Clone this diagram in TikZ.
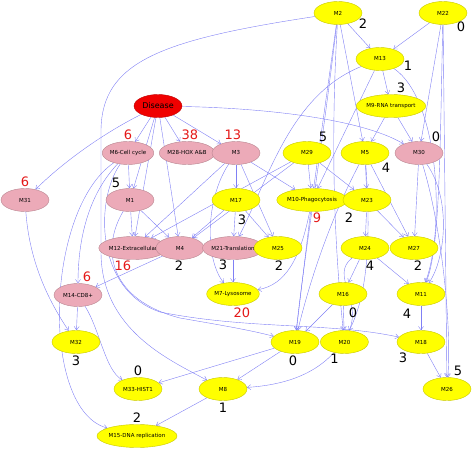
\documentclass[tikz,border=0pt]{standalone}
\usepackage{fontspec}
\setmainfont{DejaVu Sans}
\usetikzlibrary{shapes.geometric,arrows.meta,calc,positioning}
\definecolor{linkblue}{RGB}{128,128,245}
\definecolor{modpink}{RGB}{236,170,184}
\definecolor{modyellow}{RGB}{255,255,0}
\definecolor{modred}{RGB}{240,0,0}
\definecolor{numred}{RGB}{228,24,24}
\pgfdeclarelayer{background}
\pgfsetlayers{background,main}
\tikzset{
	mod/.style={ellipse, draw=#1!78!black, fill=#1, minimum width=48pt, minimum height=23pt,
		inner sep=0pt, font=\fontsize{5.5}{6}\selectfont},
	num/.style={font=\fontsize{13}{13}\selectfont, inner sep=0pt},
	rednum/.style={num, text=numred},
	link/.style={draw=linkblue, line width=0.4pt, -{Straight Barb[length=3.5pt,width=5pt]}},
}

\begin{document}
\begin{tikzpicture}[x=1pt,y=-1pt]
		\useasboundingbox (0,0) rectangle (472,449);
		% modules
		\node[mod=modred, font=\fontsize{8}{9}\selectfont] at (158,106) (dis) {Disease};
		\node[mod=modpink] at (128,153) (m6) {M6-Cell cycle};
		\node[mod=modpink] at (187,153) (m28) {M28-HOX A\&B};
		\node[mod=modpink] at (236,153) (m3) {M3};
		\node[mod=modpink] at (25,200) (m31) {M31};
		\node[mod=modpink] at (130,200) (m1) {M1};
		\node[mod=modyellow] at (338,13) (m2) {M2};
		\node[mod=modyellow] at (443,13) (m22) {M22};
		\node[mod=modyellow] at (380,59) (m13) {M13};
		\node[mod=modyellow] at (391,106) (m9) {M9-RNA transport};
		\node[mod=modyellow] at (307,153) (m29) {M29};
		\node[mod=modyellow] at (365,153) (m5) {M5};
		\node[mod=modpink] at (419,153) (m30) {M30};
		\node[mod=modyellow] at (236,200) (m17) {M17};
		\node[mod=modyellow] at (312,200) (m10) {M10-Phagocytosis};
		\node[mod=modyellow] at (367,200) (m23) {M23};
		\node[mod=modpink] at (133,248) (m12) {M12-Extracellular};
		\node[mod=modpink] at (180,248) (m4) {M4};
		\node[mod=modpink] at (233,248) (m21) {M21-Translation};
		\node[mod=modyellow] at (278,248) (m25) {M25};
		\node[mod=modyellow] at (365,248) (m24) {M24};
		\node[mod=modyellow] at (414,248) (m27) {M27};
		\node[mod=modyellow] at (233,294) (m7) {M7-Lysosome};
		\node[mod=modpink] at (78,295) (m14) {M14-CD8+};
		\node[mod=modyellow] at (343,294) (m16) {M16};
		\node[mod=modyellow] at (421,294) (m11) {M11};
		\node[mod=modyellow] at (76,342) (m32) {M32};
		\node[mod=modyellow] at (295,342) (m19) {M19};
		\node[mod=modyellow, right=1pt of m19] (m20) {M20};
		\node[mod=modyellow] at (421,342) (m18) {M18};
		\node[mod=modyellow] at (138,389) (m33) {M33-HIST1};
		\node[mod=modyellow] at (223,389) (m8) {M8};
		\node[mod=modyellow] at (447,389) (m26) {M26};
		\node[mod=modyellow] at (137,436) (m15) {M15-DNA replication};
		%
		% counts
		\node[rednum] at ($(m6)+(0,-18)$) {6};
		\node[rednum] at ($(m28)+(3,-18)$) {38};
		\node[rednum] at ($(m3)+(-3,-18)$) {13};
		\node[rednum] at ($(m31)+(0,-18)$) {6};
		\node[num] at ($(m1)+(-14,-17)$) {5};
		\node[num] at ($(m2)+(25,11)$) {2};
		\node[num] at ($(m22)+(18,14)$) {0};
		\node[num] at ($(m13)+(28,7)$) {1};
		\node[num] at ($(m9)+(10,-18)$) {3};
		\node[num] at ($(m29)+(16,-16)$) {5};
		\node[num] at ($(m5)+(21,15)$) {4};
		\node[num] at ($(m30)+(17,-16)$) {0};
		\node[num] at ($(m17)+(6,20)$) {3};
		\node[rednum] at ($(m10)+(5,18)$) {9};
		\node[num] at ($(m23)+(-18,18)$) {2};
		\node[rednum] at ($(m12)+(-10,18)$) {16};
		\node[num] at ($(m4)+(-1,18)$) {2};
		\node[num] at ($(m21)+(-10,17)$) {3};
		\node[num] at ($(m25)+(1,18)$) {2};
		\node[num] at ($(m24)+(5,18)$) {4};
		\node[num] at ($(m27)+(4,18)$) {2};
		\node[rednum] at ($(m7)+(9,19)$) {20};
		\node[rednum] at ($(m14)+(9,-18)$) {6};
		\node[num] at ($(m16)+(10,19)$) {0};
		\node[num] at ($(m11)+(-14,20)$) {4};
		\node[num] at ($(m32)+(0,19)$) {3};
		\node[num] at ($(m19)+(-2,19)$) {0};
		\node[num] at ($(m20)+(-10,17)$) {1};
		\node[num] at ($(m18)+(-18,16)$) {3};
		\node[num] at ($(m26)+(11,-18)$) {5};
		\node[num] at ($(m33)+(0,-18)$) {0};
		\node[num] at ($(m8)+(0,19)$) {1};
		\node[num] at ($(m15)+(0,-18)$) {2};
		%
		\begin{pgfonlayer}{background}
			\draw[link] (dis) -- (m6);
			\draw[link] (dis) -- (m28);
			\draw[link] (dis) -- (m3);
			\draw[link] (dis) .. controls (100,135) and (60,165) .. (m31);
			\draw[link] (dis) -- (m1);
			\draw[link] (dis) -- (m4);
			\draw[link] (dis) -- (m12);
			\draw[link] (dis) .. controls (260,108) and (360,118) .. (m30);
			\draw[link] (m6) -- (m1);
			\draw[link] (m6) .. controls (88,195) and (78,240) .. (m14);
			\draw[link] (m6) .. controls (45,210) and (40,410) .. (m15);
			\draw[link] (m6) .. controls (95,200) and (95,290) .. (160,312) .. controls (250,330) and (330,322) .. (m18);
			\draw[link] (m1) -- (m12);
			\draw[link] (m1) -- (m4);
			\draw[link] (m1) .. controls (100,250) and (110,300) .. (180,318) .. controls (220,325) and (250,330) .. (m19);
			\draw[link] (m2) .. controls (160,40) and (102,62) .. (101,130) -- (101,250) .. controls (100,330) and (170,360) .. (m8);
			\draw[link] (m3) -- (m17);
			\draw[link] (m3) -- (m12);
			\draw[link] (m3) -- (m25);
			\draw[link] (m3) -- (m10);
			\draw[link] (m3) .. controls (205,200) and (205,260) .. (m7);
			\draw[link] (m17) -- (m21);
			\draw[link] (m17) -- (m25);
			\draw[link] (m17) -- (m4);
			\draw[link] (m21) -- (m7);
			\draw[link] (m29) -- (m10);
			\draw[link] (m29) -- (m23);
			\draw[link] (m29) -- (m12);
			\draw[link] (m29) -- (m4);
			\draw[link] (m10) .. controls (300,260) and (285,285) .. (m7);
			\draw[link] (m10) -- (m19);
			\draw[link] (m2) -- (m13);
			\draw[link] (m22) -- (m13);
			\draw[link] (m13) -- (m9);
			\draw[link] (m13) .. controls (290,95) and (268,180) .. (m21);
			\draw[link] (m13) -- (m10);
			\draw[link] (m13) .. controls (440,100) and (445,230) .. (m11);
			\draw[link] (m2) -- (m5);
			\draw[link] (m2) -- (m10);
			\draw[link] (m2) .. controls (322,150) and (305,250) .. (m19);
			\draw[link] (m2) .. controls (330,150) and (335,250) .. (m20);
			\draw[link] (m9) -- (m5);
			\draw[link] (m9) -- (m30);
			\draw[link] (m22) -- (m30);
			\draw[link] (m22) .. controls (440,150) and (440,250) .. (m11);
			\draw[link] (m22) -- (m26);
			\draw[link] (m5) -- (m23);
			\draw[link] (m5) -- (m27);
			\draw[link] (m5) .. controls (330,220) and (310,280) .. (m19);
			\draw[link] (m5) .. controls (375,300) and (360,380) .. (m8);
			\draw[link] (m23) -- (m24);
			\draw[link] (m23) -- (m27);
			\draw[link] (m30) -- (m27);
			\draw[link] (m30) .. controls (452,200) and (445,260) .. (m11);
			\draw[link] (m30) .. controls (440,220) and (452,320) .. (m26);
			\draw[link] (m24) -- (m16);
			\draw[link] (m24) -- (m11);
			\draw[link] (m24) .. controls (330,275) and (362,300) .. (m20);
			\draw[link] (m16) -- (m19);
			\draw[link] (m16) -- (m20);
			\draw[link] (m11) -- (m18);
			\draw[link] (m18) -- (m26);
			\draw[link] (m19) -- (m8);
			\draw[link] (m19) -- (m33);
			\draw[link] (m8) -- (m15);
			\draw[link] (m14) -- (m32);
			\draw[link] (m14) .. controls (100,330) and (105,370) .. (m33);
			\draw[link] (m31) .. controls (30,270) and (55,310) .. (m32);
			\draw[link] (m4) -- (m14);
		\end{pgfonlayer}
	\end{tikzpicture}
\end{document}
